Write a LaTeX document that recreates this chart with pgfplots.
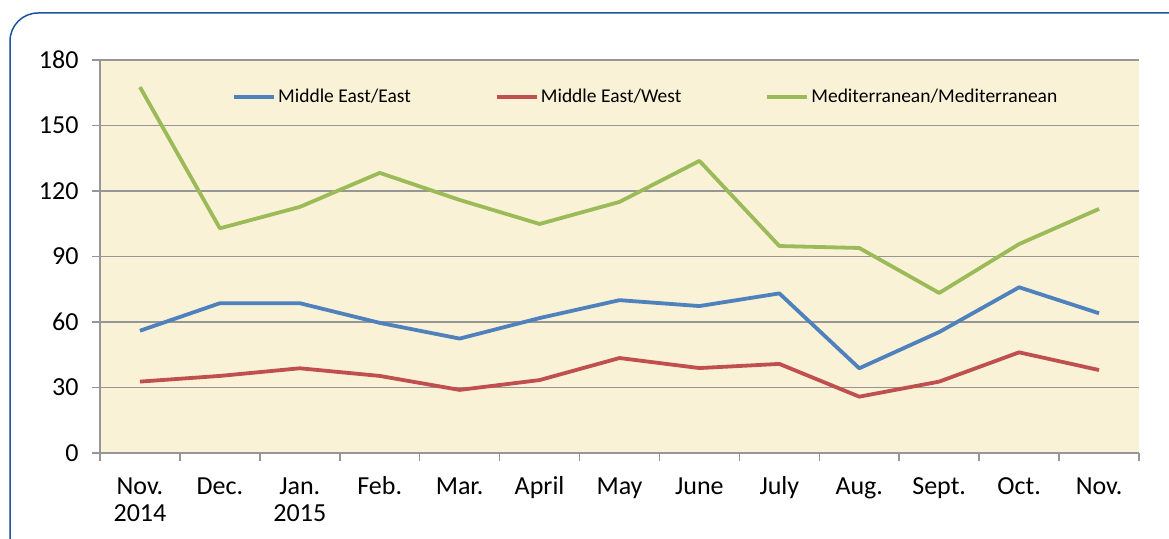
\documentclass[border=0pt]{standalone}
\usepackage{fontspec}
\setmainfont{Carlito}
\usepackage{pgfplots}
\pgfplotsset{compat=1.18}
\definecolor{bgc}{RGB}{250,242,215}
\definecolor{gridc}{RGB}{150,150,150}
\definecolor{sblue}{RGB}{79,129,189}
\definecolor{sred}{RGB}{192,80,77}
\definecolor{sgreen}{RGB}{155,187,89}
\definecolor{framec}{RGB}{30,80,160}
\begin{document}
\begin{tikzpicture}[x=1pt,y=1pt]
\begin{axis}[
  at={(100pt,85pt)}, anchor=south west,
  scale only axis, width=1039pt, height=393pt,
  xmin=-0.5, xmax=12.5, ymin=0, ymax=180,
  axis x line*=bottom, axis y line*=left,
  axis line style={draw=gridc, line width=1.5pt},
  axis background/.style={fill=bgc},
  ytick={0,30,...,180},
  ymajorgrids, grid style={draw=gridc, line width=1.5pt},
  xtick={-0.5,0.5,1.5,2.5,3.5,4.5,5.5,6.5,7.5,8.5,9.5,10.5,11.5,12.5},
  xticklabels={},
  extra x ticks={0,1,2,3,4,5,6,7,8,9,10,11,12},
  extra x tick labels={{\strut Nov.\\2014},\strut Dec.,{\strut Jan.\\2015},\strut Feb.,\strut Mar.,\strut April,\strut May,\strut June,\strut July,\strut Aug.,\strut Sept.,\strut Oct.,\strut Nov.},
  extra x tick style={major tick length=0pt, xmajorgrids=false,
    xticklabel style={align=center, font=\fontsize{26}{27}\selectfont, yshift=-19pt}},
  tick style={draw=gridc, line width=1.5pt},
  tick align=outside,
  major tick length=8pt,
  yticklabel style={font=\fontsize{26}{28}\selectfont, xshift=-10pt},
  /pgf/number format/assume math mode=true,
  legend columns=3,
  legend style={draw=none, fill=none, at={(0.127,0.906)}, anchor=west,
    font=\fontsize{19.5}{22}\selectfont, inner sep=0pt,
    /tikz/every even column/.append style={column sep=82pt}},
  legend image code/.code={\draw[#1, line width=4pt] (0pt,0pt) -- (40pt,0pt);},
  every axis plot/.append style={line width=3.8pt, line join=round},
]
\addplot[sblue, mark=none] coordinates {(0,56) (1,68.6) (2,68.6) (3,59.6) (4,52.4) (5,61.8) (6,70) (7,67.3) (8,73.1) (9,38.8) (10,55.4) (11,75.9) (12,64)};
\addlegendentry{Middle East/East}
\addplot[sred, mark=none] coordinates {(0,32.7) (1,35.3) (2,38.8) (3,35.3) (4,28.9) (5,33.4) (6,43.5) (7,38.9) (8,40.8) (9,25.8) (10,32.7) (11,46.1) (12,38)};
\addlegendentry{Middle East/West}
\addplot[sgreen, mark=none] coordinates {(0,167.6) (1,102.9) (2,112.7) (3,128.3) (4,115.9) (5,104.9) (6,115) (7,133.8) (8,94.8) (9,93.9) (10,73.3) (11,95.7) (12,111.8)};
\addlegendentry{Mediterranean/Mediterranean}
\end{axis}
\draw[framec, line width=1.5pt, rounded corners=28pt] (10,-40) rectangle (1220,525);
\pgfresetboundingbox
\useasboundingbox (0,0) rectangle (1169,538);
\end{tikzpicture}
\end{document}
